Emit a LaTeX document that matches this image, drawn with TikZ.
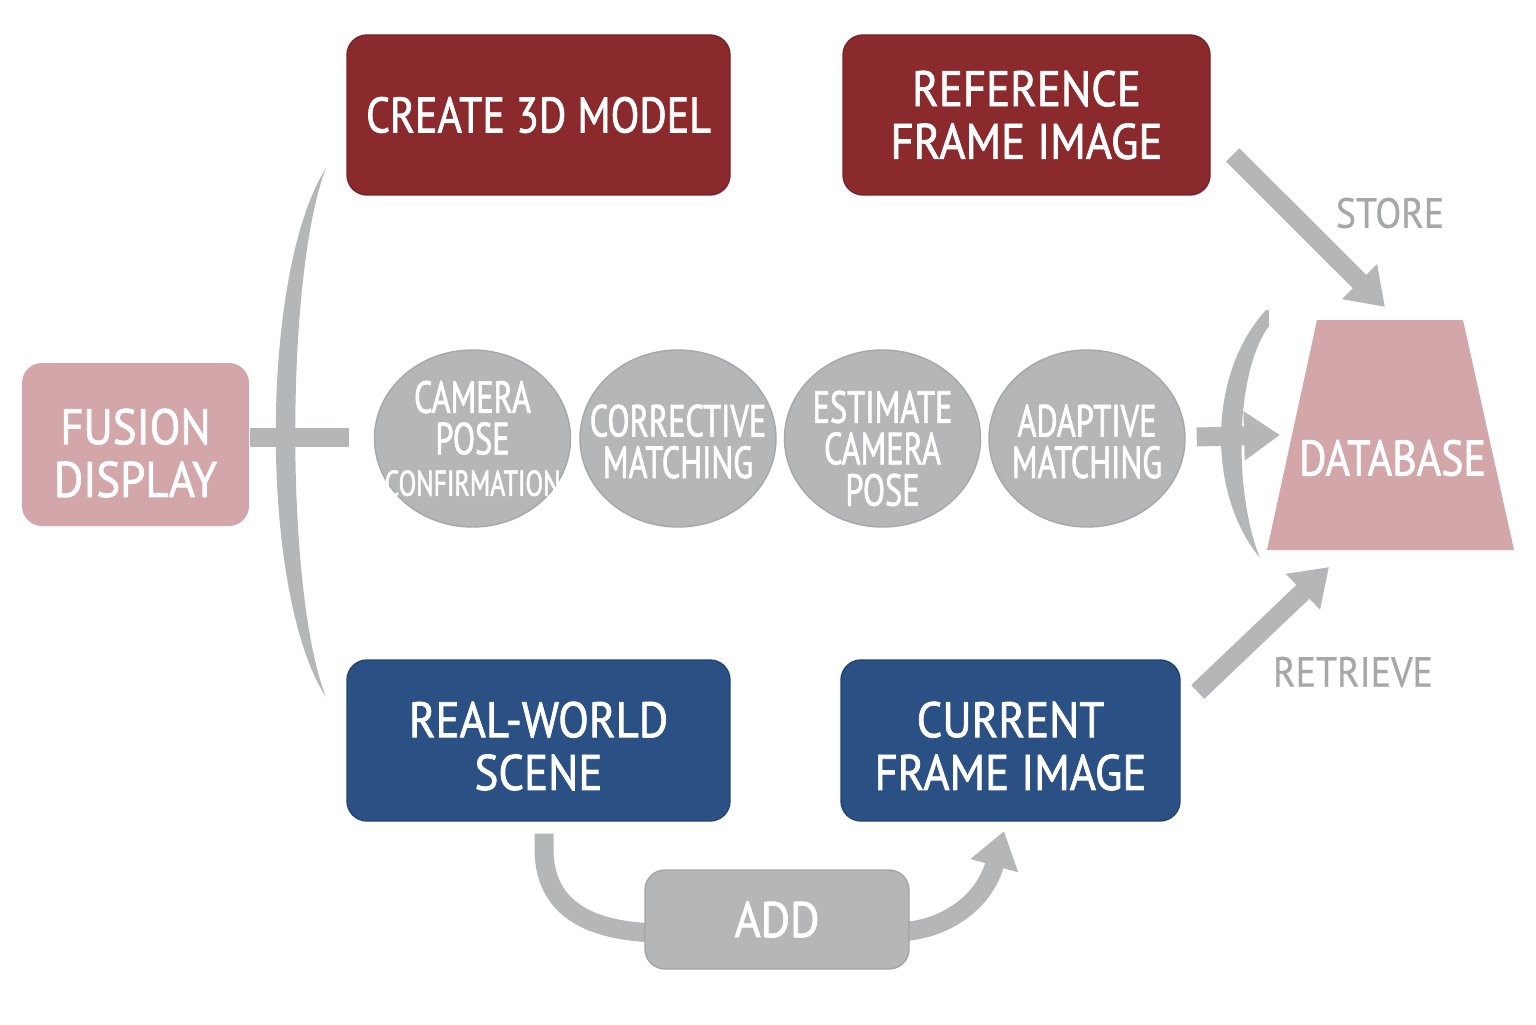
\documentclass[tikz,border=0pt]{standalone}
\usepackage{fontspec}
\setmainfont{PT Sans}
\newfontfamily\boxfont[FakeStretch=0.90, FakeBold=1.4]{PT Sans}
\newfontfamily\narrowboxfont[FakeStretch=0.84, FakeBold=1.4]{PT Sans}
\newfontfamily\ovalfont[FakeStretch=0.72, FakeBold=1.4]{PT Sans}
\newfontfamily\tagfont[FakeStretch=0.9, FakeBold=0.6]{PT Sans}
\usepackage{xcolor}
\usepackage{tikz}
\usetikzlibrary{arrows.meta, positioning, shapes.geometric}
\definecolor{boxred}{HTML}{8B2A2D}
\definecolor{boxblue}{HTML}{2A5084}
\definecolor{boxpink}{HTML}{D3A6AA}
\definecolor{flowgray}{HTML}{B4B6B8}
\definecolor{labelgray}{HTML}{A5A7A9}
\newcommand{\lowered}[2]{\raisebox{-#1}[\height][\depth]{\begin{tabular}{@{}c@{}}#2\end{tabular}}}

\begin{document}
\begin{tikzpicture}[
    box/.style={rectangle, rounded corners=0.2cm, align=center, text=white, inner sep=0pt, font=\boxfont\fontsize{14.2}{15}\selectfont},
    redbox/.style={box, fill=boxred, draw=boxred!85!black, minimum height=1.6cm},
    bluebox/.style={box, fill=boxblue, draw=boxblue!85!black, minimum height=1.61cm},
    pinkbox/.style={box, fill=boxpink, minimum width=2.27cm, minimum height=1.63cm},
    graybox/.style={box, fill=flowgray, draw=flowgray!90!black, line width=0.4pt, minimum width=2.64cm, minimum height=0.99cm},
    oval/.style={ellipse, fill=flowgray, draw=flowgray!92!black, inner sep=0pt, minimum width=1.96cm, minimum height=1.77cm},
    ovaltext/.style={align=center, text=white, inner sep=0pt, font=\ovalfont\fontsize{12.8}{11.8}\selectfont},
    tag/.style={text=labelgray, font=\tagfont\fontsize{12}{13}\selectfont},
    flow/.style={draw=flowgray, line width=0.19cm},
    arr/.style={flow, -{Triangle[length=0.36cm, width=0.47cm]}}
]
\useasboundingbox (0,0) rectangle (15.36,10.24);

\node[redbox, minimum width=3.83cm] (create3d) at (5.385,9.09) {\narrowboxfont CREATE 3D MODEL};
\node[redbox, minimum width=3.67cm] (refimg) at (10.265,9.09) {REFERENCE\\FRAME IMAGE};
\node[pinkbox] (fusion) at (1.355,5.795) {\lowered{0.155cm}{FUSION\\DISPLAY}};
\node[bluebox, minimum width=3.83cm] (realworld) at (5.385,2.835) {\lowered{0.125cm}{REAL-WORLD\\SCENE}};
\node[bluebox, minimum width=3.39cm] (curimg) at (10.105,2.835) {\lowered{0.125cm}{CURRENT\\FRAME IMAGE}};

\node[oval] (camconf) at (4.725,5.855) {};
\node[oval] (corrmatch) at (6.78,5.855) {};
\node[oval] (estpose) at (8.825,5.855) {};
\node[oval] (adapmatch) at (10.87,5.855) {};
\node[ovaltext] at (camconf) {CAMERA\\POSE\\{\fontsize{10.2}{11}\selectfont CONFIRMATION}};
\node[ovaltext] at ([yshift=-0.03cm]corrmatch) {CORRECTIVE\\MATCHING};
\node[ovaltext] at ([yshift=-0.1cm]estpose) {ESTIMATE\\CAMERA\\POSE};
\node[ovaltext] at ([yshift=-0.03cm]adapmatch) {ADAPTIVE\\MATCHING};

\coordinate (dbtl) at (13.17,7.04);
\coordinate (dbtr) at (14.63,7.04);
\coordinate (dbbr) at (15.14,4.74);
\coordinate (dbbl) at (12.67,4.74);
\coordinate (dbwest) at (12.92,5.89);
\fill[boxpink] (dbtl) -- (dbtr) -- (dbbr) -- (dbbl) -- cycle;
\node[box, font=\narrowboxfont\fontsize{14.2}{15}\selectfont] (db) at (13.925,5.66) {DATABASE};

\fill[flowgray] (3.26,8.56) .. controls (2.59,7.5) and (2.59,4.3) .. (3.26,3.27)
    .. controls (2.85,4.3) and (2.85,7.5) .. cycle;
\fill[flowgray] (12.69,7.14) -- (12.66,7.14) .. controls (12.07,6.5) and (12.07,5.3) .. (12.60,4.66)
    .. controls (12.34,5.3) and (12.34,6.5) .. (12.69,6.98) -- cycle;
\coordinate (fusionbar) at (3.49,5.87);
\draw[flow] (fusion.east |- fusionbar) -- (fusionbar);

\draw[arr] ([shift={(0.22,-0.40)}]refimg.east) -- ([shift={(0.68,0.13)}]dbtl);
\node[tag] (store) at (13.90,8.11) {STORE};
\draw[arr] ([shift={(0.11,0.015)}]adapmatch.east) -- ([xshift=-0.12cm]dbwest);
\draw[arr] ([shift={(0.17,0.485)}]curimg.east) -- ([shift={(0.62,-0.17)}]dbbl);
\node[tag] (retrieve) at (13.53,3.52) {RETRIEVE};

\coordinate (addtip) at (10.04,1.93);
\draw[flow] ([shift={(0.055,-0.12)}]realworld.south) -- ++(0,-0.15) .. controls (5.44,1.15) and (5.9,0.92) .. (6.6,0.91);
\draw[arr] (9.0,0.92) .. controls (9.5,0.95) and (9.85,1.25) .. (addtip);
\node[graybox] (addbox) at (7.77,1.045) {ADD};
\end{tikzpicture}
\end{document}
